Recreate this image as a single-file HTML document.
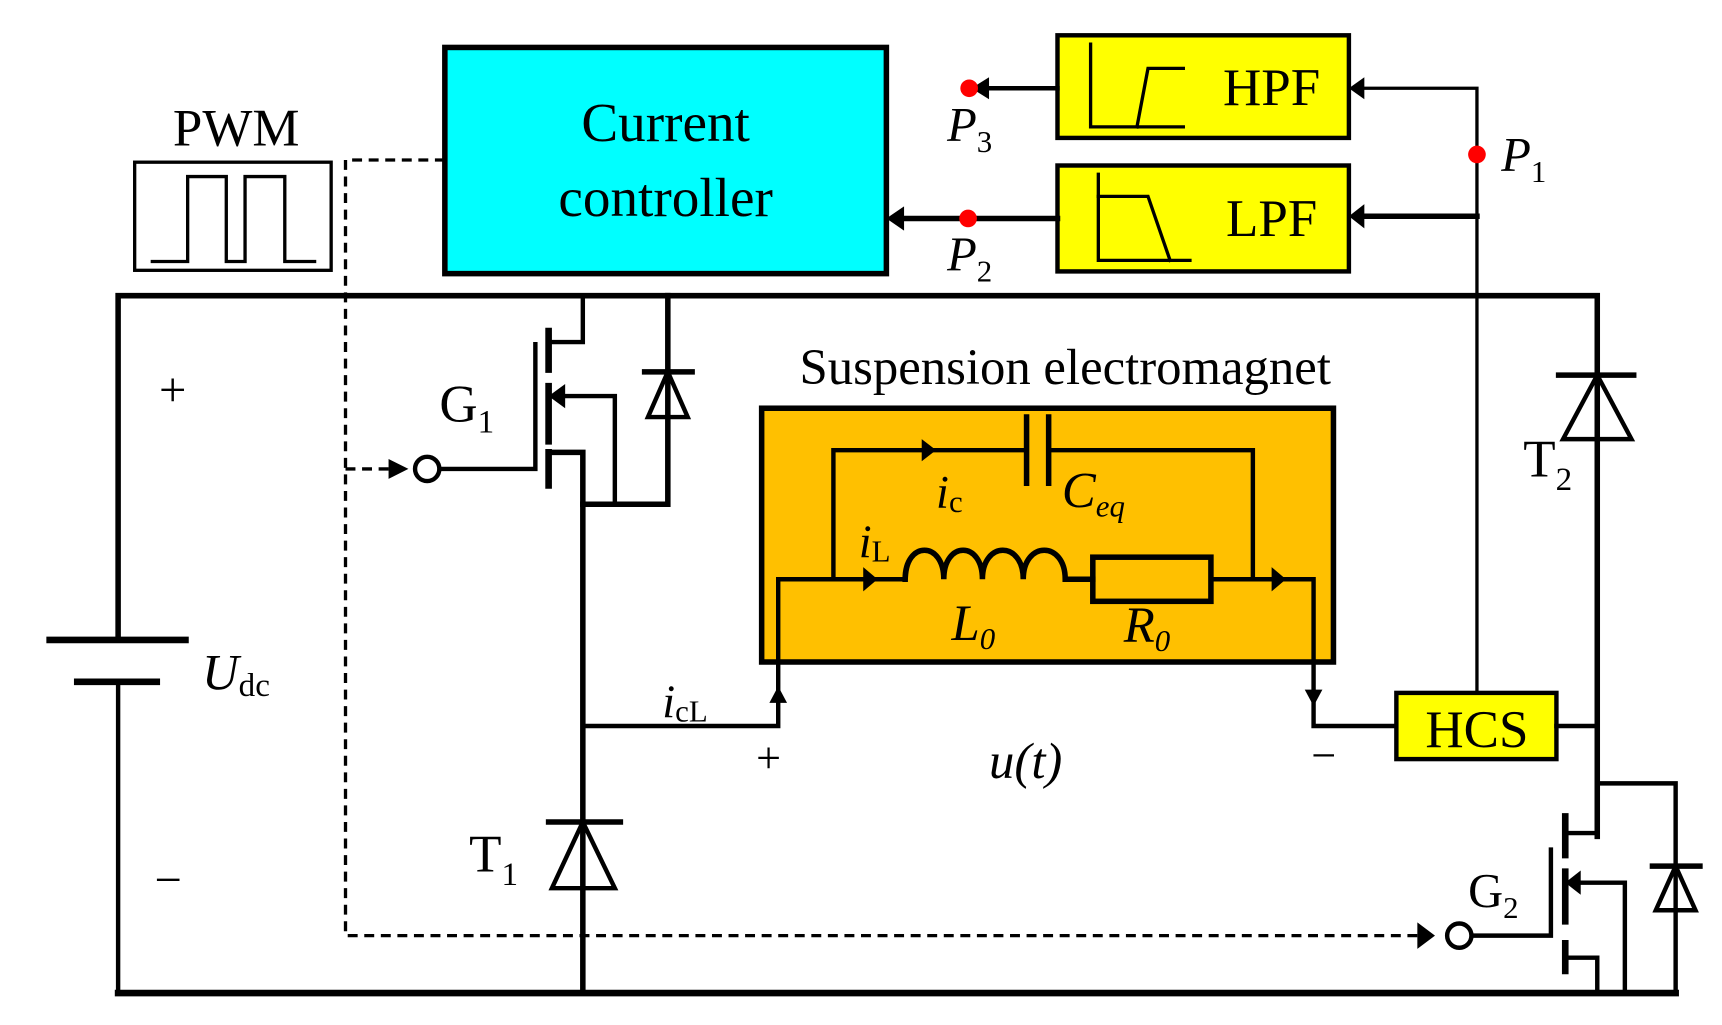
<!DOCTYPE html>
<html><head><meta charset="utf-8"><style>html,body{margin:0;padding:0;background:#fff;}svg{display:block}</style></head>
<body>
<svg width="1722" height="1025" viewBox="0 0 1560 929" preserveAspectRatio="none" xmlns="http://www.w3.org/2000/svg" font-family="'Liberation Serif',serif">
<g fill="none" stroke="#000" stroke-width="5" stroke-linecap="square">
<rect x="403" y="43" width="400" height="205" fill="#00ffff" stroke-width="5"/>
<rect x="122" y="147" width="178" height="98" stroke-width="3"/>
<polyline points="138,237 170,237 170,160 205,160 205,237 222,237 222,160 258,160 258,237 285,237" stroke-width="3"/>
<rect x="958" y="32" width="264" height="93" fill="#ffff00" stroke-width="4"/>
<rect x="958" y="150" width="264" height="96" fill="#ffff00" stroke-width="4"/>
<polyline points="988,40 988,115 1072,115" stroke-width="3"/>
<polyline points="1030,115 1040,62 1072,62" stroke-width="3"/>
<polyline points="995,158 995,236 1078,236" stroke-width="3"/>
<polyline points="995,178 1040,178 1060,236" stroke-width="3"/>
<polyline points="1338,628 1338,80 1232,80" stroke-width="3"/>
<line x1="1338" y1="196" x2="1232" y2="196" stroke-width="5"/>
<line x1="958" y1="80" x2="895" y2="80" stroke-width="4"/>
<line x1="958" y1="198" x2="815" y2="198" stroke-width="5"/>
<polyline points="403,145 313,145 313,848 1285,848" stroke-width="3" stroke-dasharray="9,6" stroke-linecap="butt"/>
<line x1="313" y1="425" x2="360" y2="425" stroke-width="3" stroke-dasharray="9,6" stroke-linecap="butt"/>
<polyline points="107,580 107,268 1447,268 1447,758"/>
<polyline points="107,618 107,900 1518,900 1518,710 1447,710" stroke-width="4"/>
<line x1="107" y1="900" x2="1518" y2="900" stroke-width="6"/>
<line x1="45" y1="580" x2="168" y2="580" stroke-width="6"/>
<line x1="70" y1="618" x2="142" y2="618" stroke-width="6"/>
<polyline points="528,268 528,310 500,310" stroke-width="4"/>
<line x1="497" y1="300" x2="497" y2="335" stroke-width="6"/>
<line x1="497" y1="350" x2="497" y2="400" stroke-width="6"/>
<line x1="497" y1="410" x2="497" y2="440" stroke-width="6"/>
<polyline points="400,425 485,425 485,312" stroke-width="4"/>
<circle cx="387" cy="425" r="11" fill="#fff" stroke-width="4"/>
<polyline points="500,410 528,410 528,900"/>
<polyline points="510,359 557,359 557,457" stroke-width="4"/>
<polyline points="605,268 605,457 528,457"/>
<line x1="584" y1="337" x2="627" y2="337"/>
<polygon points="605,337 587,378 623,378" stroke-width="4" stroke-linejoin="miter"/>
<line x1="497" y1="745" x2="562" y2="745"/>
<polygon points="528,745 500,805 557,805" stroke-width="4"/>
<polyline points="528,658 705,658 705,525 820,525" stroke-width="4"/>
<rect x="690" y="370" width="518" height="230" fill="#ffc000" stroke-width="5"/>
<polyline points="705,600 705,525 820,525" stroke-width="4"/>
<polyline points="755,525 755,408 930,408" stroke-width="4"/>
<polyline points="950,408 1135,408 1135,525" stroke-width="4"/>
<line x1="930" y1="378" x2="930" y2="438" stroke-width="5"/>
<line x1="950" y1="378" x2="950" y2="438" stroke-width="5"/>
<path d="M820,525 C820,490 855,490 855,525 C855,490 890,490 890,525 C890,490 927,490 927,525 C927,490 965,490 965,525 L990,525" stroke-width="5"/>
<rect x="990" y="505" width="107" height="40" stroke-width="5"/>
<polyline points="1097,525 1190,525 1190,658 1265,658" stroke-width="4"/>
<rect x="1265" y="628" width="145" height="60" fill="#ffff00" stroke-width="4"/>
<line x1="1410" y1="658" x2="1447" y2="658" stroke-width="4"/>
<line x1="1412" y1="340" x2="1480" y2="340" stroke-width="5"/>
<polygon points="1447,340 1416,398 1478,398" stroke-width="4"/>
<polyline points="1447,710 1447,755 1421,755" stroke-width="4"/>
<line x1="1418" y1="740" x2="1418" y2="775" stroke-width="6"/>
<line x1="1418" y1="790" x2="1418" y2="835" stroke-width="6"/>
<line x1="1418" y1="855" x2="1418" y2="880" stroke-width="6"/>
<polyline points="1335,848 1405,848 1405,770" stroke-width="4"/>
<circle cx="1322" cy="848" r="11" fill="#fff" stroke-width="4"/>
<polyline points="1430,800 1472,800 1472,900" stroke-width="4"/>
<polyline points="1421,868 1447,868 1447,900" stroke-width="4"/>
<line x1="1497" y1="785" x2="1540" y2="785"/>
<polygon points="1518,785 1500,825 1536,825" stroke-width="4"/>
</g>
<g fill="#000">
<polygon points="1222,80 1236,70 1236,90"/>
<polygon points="1222,196 1236,185 1236,207"/>
<polygon points="880,80 896,70 896,90"/>
<polygon points="803,198 819,187 819,209"/>
<polygon points="370,425 352,416 352,434"/>
<polygon points="1300,848 1284,836 1284,860"/>
<polygon points="497,359 512,348 512,370"/>
<polygon points="1418,800 1432,789 1432,811"/>
<polygon points="848,408 835,398 835,418"/>
<polygon points="795,525 782,514 782,536"/>
<polygon points="1165,525 1152,514 1152,536"/>
<polygon points="705,622 697,637 713,637"/>
<polygon points="1190,640 1182,625 1198,625"/>
</g>
<g fill="#ff0000">
<circle cx="1338" cy="140" r="8"/>
<circle cx="878" cy="80" r="8"/>
<circle cx="877" cy="198" r="8"/>
</g>
<g fill="#000" font-size="44">
<text x="603" y="128" text-anchor="middle" font-size="50">Current</text>
<text x="603" y="196" text-anchor="middle" font-size="50">controller</text>
<text x="214" y="132" text-anchor="middle" font-size="48">PWM</text>
<text x="1152" y="95" text-anchor="middle" font-size="48">HPF</text>
<text x="1152" y="214" text-anchor="middle" font-size="48">LPF</text>
<text x="1338" y="677" text-anchor="middle" font-size="48">HCS</text>
<text x="965" y="348" text-anchor="middle" font-size="46">Suspension electromagnet</text>
<text x="858" y="128" font-style="italic" font-size="44">P<tspan font-size="28" font-style="normal" dy="10">3</tspan></text>
<text x="858" y="245" font-style="italic" font-size="44">P<tspan font-size="28" font-style="normal" dy="10">2</tspan></text>
<text x="1360" y="155" font-style="italic" font-size="44">P<tspan font-size="28" font-style="normal" dy="10">1</tspan></text>
<text x="398" y="382" font-size="48">G<tspan font-size="30" dy="10">1</tspan></text>
<text x="1330" y="822" font-size="44">G<tspan font-size="28" dy="10">2</tspan></text>
<text x="1380" y="432" font-size="48">T<tspan font-size="30" dy="12">2</tspan></text>
<text x="425" y="790" font-size="48">T<tspan font-size="30" dy="12">1</tspan></text>
<text x="144" y="368" font-size="44">+</text>
<text x="140" y="812" font-size="44">−</text>
<text x="685" y="700" font-size="40">+</text>
<text x="1188" y="698" font-size="40">−</text>
<text x="183" y="625" font-style="italic" font-size="46">U<tspan font-size="30" font-style="normal" dy="6">dc</tspan></text>
<text x="896" y="705" font-style="italic" font-size="46">u(t)</text>
<text x="600" y="650" font-style="italic" font-size="42">i<tspan font-size="28" font-style="normal" dy="4">cL</tspan></text>
<text x="848" y="460" font-style="italic" font-size="42">i<tspan font-size="28" font-style="normal" dy="4">c</tspan></text>
<text x="778" y="505" font-style="italic" font-size="42">i<tspan font-size="28" font-style="normal" dy="4">L</tspan></text>
<text x="962" y="460" font-style="italic" font-size="46">C<tspan font-size="28" dy="8">eq</tspan></text>
<text x="862" y="580" font-style="italic" font-size="46">L<tspan font-size="28" dy="8">0</tspan></text>
<text x="1018" y="582" font-style="italic" font-size="46">R<tspan font-size="28" dy="8">0</tspan></text>
</g>
</svg>
</body></html>
